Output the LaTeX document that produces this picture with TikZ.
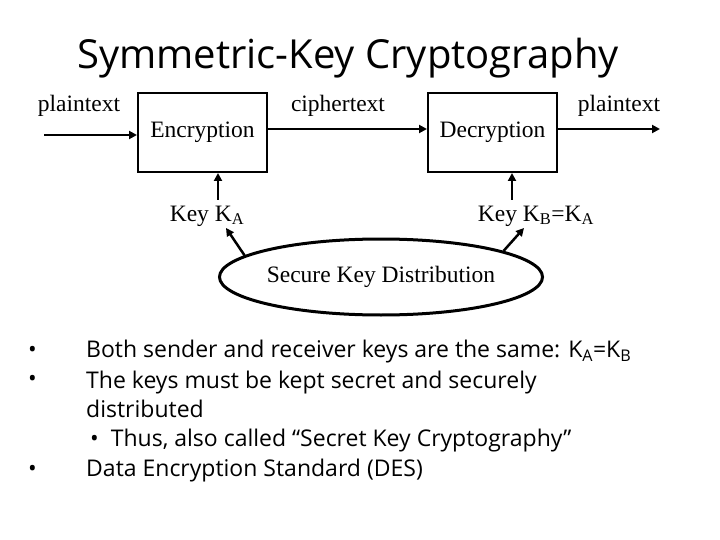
\documentclass[tikz,border=0pt]{standalone}
\usepackage{fontspec}
\setmainfont{Liberation Serif}
\newfontfamily\comic{Open Sans}
\usetikzlibrary{arrows.meta,shapes.geometric}
\begin{document}
\begin{tikzpicture}[x=1pt,y=-1pt,
 lbl/.style={font=\fontsize{23.5}{26}\selectfont,inner sep=0},
 box/.style={draw,line width=2pt,minimum width=129pt,minimum height=79pt,font=\fontsize{23.5}{26}\selectfont},
 arr/.style={line width=2.5pt,-{Triangle[length=8pt,width=8pt]}},
 bul/.style={font=\comic\fontsize{23}{27}\selectfont,anchor=west,inner sep=0}]
\useasboundingbox (0,0) rectangle (720,540);
\node[font=\comic\fontsize{40}{46}\selectfont] (title) at (348,58) {Symmetric-Key Cryptography};
\node[box] (enc) at (202.5,132.5) {Encryption};
\node[box] (dec) at (492.5,132.5) {Decryption};
\coordinate (pin) at (44,135);
\coordinate (pout) at (660,129);
\node[lbl] (p1) at (79,106) {plaintext};
\node[lbl] (c1) at (338,106) {ciphertext};
\node[lbl] (p2) at (619,106) {plaintext};
\draw[arr] (pin) -- (enc.west|-pin);
\draw[arr] (enc.east|-0,129) -- (dec.west|-0,129);
\draw[arr] (dec.east|-pout) -- (pout);
\node[lbl] (ka) at (207,216) {Key K\textsubscript{A}};
\node[lbl] (kb) at (536,216) {Key K\textsubscript{B}=K\textsubscript{A}};
\draw[arr] (218,200) -- (enc.south-|218,0);
\draw[arr] (512,200) -- (dec.south-|512,0);
\node[draw,ellipse,line width=3pt,minimum width=290pt,minimum height=76pt,lbl] (skd) at (381,277) {Secure Key Distribution};
\draw[arr] (skd.171) -- (226,228);
\draw[arr] (skd.12) -- (524,228);
\node[bul] (b1) at (28,352) {•};
\node[bul] (b2) at (28,381) {•};
\node[bul] (b3) at (28,471) {•};
\node[bul] (t1) at (86,352) {Both sender and receiver keys are the same: K\textsubscript{A}=K\textsubscript{B}};
\node[bul] (t2) at (86,383) {The keys must be kept secret and securely};
\node[bul] (t3) at (86,409) {distributed};
\node[bul] (t4) at (86,441) {\hspace*{4pt}•\hspace{12pt}Thus, also called “Secret Key Cryptography”};
\node[bul] (t5) at (86,471) {Data Encryption Standard (DES)};
\end{tikzpicture}
\end{document}
